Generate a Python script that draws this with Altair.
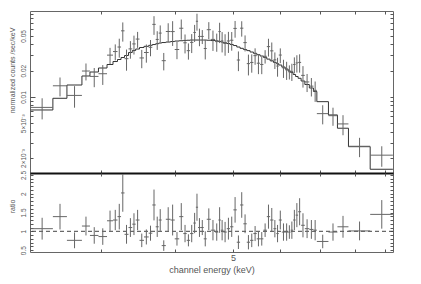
import altair as alt
import pandas as pd

# ---- data ----
energy_edges = [2.288, 2.491, 2.630, 2.787, 2.875, 2.971, 3.071, 3.143, 3.198, 3.242,
                3.286, 3.337, 3.386, 3.431, 3.482, 3.543, 3.608, 3.659, 3.707, 3.751,
                3.794, 3.855, 3.926, 3.990, 4.060, 4.125, 4.180, 4.234, 4.288, 4.330,
                4.367, 4.414, 4.464, 4.516, 4.588, 4.664, 4.724, 4.769, 4.816, 4.880,
                4.942, 5.006, 5.072, 5.137, 5.203, 5.272, 5.340, 5.409, 5.480, 5.551,
                5.622, 5.697, 5.770, 5.844, 5.910, 5.967, 6.037, 6.115, 6.186, 6.246,
                6.307, 6.368, 6.430, 6.505, 6.599, 6.715, 6.822, 6.913, 7.230, 7.486,
                7.812, 8.496, 9.276]

counts = [0.00760, 0.01343, 0.01042, 0.01981, 0.01719, 0.01845, 0.03011, 0.03309, 0.03729, 0.05713,
          0.02743, 0.03549, 0.04046, 0.04598, 0.02796, 0.03227, 0.03703, 0.06768, 0.04554, 0.05383,
          0.02602, 0.05613, 0.05600, 0.03492, 0.06115, 0.04169, 0.03388, 0.04212, 0.05467, 0.07349,
          0.04929, 0.04929, 0.03585, 0.05885, 0.04556, 0.04300, 0.05600, 0.04380, 0.04091, 0.04373,
          0.04459, 0.06087, 0.02647, 0.06125, 0.04189, 0.02408, 0.02484, 0.02969, 0.02434, 0.02354,
          0.02921, 0.03768, 0.03371, 0.02660, 0.02258, 0.03017, 0.02159, 0.02047, 0.01942, 0.01962,
          0.02350, 0.02452, 0.02487, 0.01767, 0.01486, 0.01330, 0.01191, 0.00645, 0.00611, 0.00492,
          0.00273, 0.00216]

counts_err = [0.00206, 0.00328, 0.00288, 0.00435, 0.00425, 0.00472, 0.00635, 0.00687, 0.00912, 0.01414,
              0.00745, 0.00807, 0.00986, 0.00955, 0.00662, 0.00759, 0.00780, 0.01632, 0.01098, 0.01201,
              0.00587, 0.01361, 0.01766, 0.00786, 0.01584, 0.01020, 0.00713, 0.01031, 0.01210, 0.01613,
              0.01120, 0.00896, 0.00896, 0.01293, 0.01194, 0.01009, 0.01465, 0.01148, 0.01127, 0.01185,
              0.01075, 0.01318, 0.00671, 0.01225, 0.00873, 0.00644, 0.00588, 0.00632, 0.00609, 0.00530,
              0.00510, 0.00868, 0.00830, 0.00572, 0.00552, 0.00580, 0.00507, 0.00480, 0.00357, 0.00438,
              0.00488, 0.00549, 0.00589, 0.00487, 0.00347, 0.00317, 0.00312, 0.00159, 0.00143, 0.00127,
              0.00068, 0.00057]

model = [0.00710, 0.00966, 0.01371, 0.01738, 0.01931, 0.02145, 0.02352, 0.02545, 0.02683, 0.02828,
         0.02981, 0.03226, 0.03400, 0.03537, 0.03679, 0.03797, 0.03898, 0.03981, 0.04066, 0.04141,
         0.04196, 0.04252, 0.04308, 0.04365, 0.04399, 0.04435, 0.04458, 0.04481, 0.04481, 0.04481,
         0.04481, 0.04481, 0.04481, 0.04458, 0.04423, 0.04388, 0.04308, 0.04252, 0.04174, 0.04087,
         0.03981, 0.03877, 0.03728, 0.03603, 0.03491, 0.03391, 0.03268, 0.03158, 0.03043, 0.02942,
         0.02836, 0.02711, 0.02593, 0.02486, 0.02402, 0.02321, 0.02203, 0.02089, 0.01982, 0.01905,
         0.01808, 0.01715, 0.01636, 0.01523, 0.01389, 0.01267, 0.01156, 0.00884, 0.00623, 0.00439,
         0.00270, 0.00149]

ratio = [1.07, 1.39, 0.76, 1.14, 0.89, 0.86, 1.28, 1.30, 1.39, 2.02,
         0.92, 1.10, 1.19, 1.30, 0.76, 0.85, 0.95, 1.70, 1.12, 1.30,
         0.62, 1.32, 1.30, 0.80, 1.39, 0.94, 0.76, 0.94, 1.22, 1.64,
         1.10, 1.10, 0.80, 1.32, 1.03, 0.98, 1.30, 1.03, 0.98, 1.07,
         1.12, 1.57, 0.71, 1.70, 1.20, 0.71, 0.76, 0.94, 0.80, 0.80,
         1.03, 1.39, 1.30, 1.07, 0.94, 1.30, 0.98, 0.98, 0.98, 1.03,
         1.30, 1.43, 1.52, 1.16, 1.07, 1.05, 1.03, 0.73, 0.98, 1.12,
         1.01, 1.45]

ratio_err = [0.29, 0.34, 0.21, 0.25, 0.22, 0.22, 0.27, 0.27, 0.34, 0.50,
             0.25, 0.25, 0.29, 0.27, 0.18, 0.20, 0.20, 0.41, 0.27, 0.29,
             0.14, 0.32, 0.41, 0.18, 0.36, 0.23, 0.16, 0.23, 0.27, 0.36,
             0.25, 0.20, 0.20, 0.29, 0.27, 0.23, 0.34, 0.27, 0.27, 0.29,
             0.27, 0.34, 0.18, 0.34, 0.25, 0.19, 0.18, 0.20, 0.20, 0.18,
             0.18, 0.32, 0.32, 0.23, 0.23, 0.25, 0.23, 0.23, 0.18, 0.23,
             0.27, 0.32, 0.36, 0.32, 0.25, 0.25, 0.27, 0.18, 0.23, 0.29,
             0.25, 0.38]

ratio_reference = [1.0]

x_ticks = [3, 4, 5, 6, 7, 8, 9]
x_labels = {5: "5"}
y_ticks = [0.002, 0.003, 0.004, 0.005, 0.006, 0.007, 0.008, 0.009,
           0.01, 0.02, 0.03, 0.04, 0.05, 0.06, 0.07, 0.08, 0.09]
y_major = [0.01]
y_labels = {0.002: "2×10⁻³", 0.005: "5×10⁻³", 0.01: "0.01", 0.02: "0.02", 0.05: "0.05"}
r_ticks = [0.5, 0.6, 0.7, 0.8, 0.9, 1.0, 1.1, 1.2, 1.3, 1.4, 1.5, 1.6, 1.7, 1.8, 1.9,
           2.0, 2.1, 2.2, 2.3, 2.4, 2.5]
r_labels = {0.5: "0.5", 1.0: "1", 1.5: "1.5", 2.0: "2", 2.5: "2.5"}

# ---- tables ----
n = len(counts)
bins = pd.DataFrame({
    "elo": energy_edges[:-1], "ehi": energy_edges[1:],
    "counts": counts, "err": counts_err, "model": model,
    "ratio": ratio, "rerr": ratio_err,
})
bins["ecen"] = (bins["elo"] + bins["ehi"]) / 2
bins["clo"] = bins["counts"] - bins["err"]
bins["chi"] = bins["counts"] + bins["err"]
bins["rlo"] = bins["ratio"] - bins["rerr"]
bins["rhi"] = bins["ratio"] + bins["rerr"]

step_rows = []
for i in range(n):
    step_rows.append({"e": energy_edges[i], "m": model[i], "k": 2 * i})
    step_rows.append({"e": energy_edges[i + 1], "m": model[i], "k": 2 * i + 1})
steps = pd.DataFrame(step_rows)
ref = pd.DataFrame({"r": ratio_reference})


def label_expr(mapping):
    expr = "''"
    for v, t in reversed(list(mapping.items())):
        expr = f"datum.value == {v} ? '{t}' : ({expr})"
    return expr


# layout (pixels inside the single view)
W = 363
H_TOP = 162
H_ALL = 241
H_BOT = H_ALL - H_TOP

XS = alt.Scale(type="log", domain=[2.28, 9.28], nice=False)
YS = alt.Scale(type="log", domain=[0.00135, 0.0963], nice=False, range=[H_TOP, 0])
RS = alt.Scale(domain=[0.45, 2.55], nice=False, zero=False, range=[H_ALL, H_TOP])

TXT = "#555"
INK = "#666"
MODEL_INK = "#333"
FONT = "Liberation Sans"


def tick_axis(orient, values, size=3, shift=0):
    return alt.Axis(orient=orient, values=values, labels=False, domain=False, grid=False,
                    ticks=True, tickSize=size, offset=-size - shift, title=None, tickColor=TXT)


def y_label_axis(values, mapping, title, title_y):
    return alt.Axis(
        orient="left", values=values, labelExpr=label_expr(mapping), domain=False, grid=False,
        ticks=True, tickSize=3, offset=-3, tickColor=TXT, labelOverlap=False, labelFlush=False,
        labelAngle=270, labelAlign="center", labelBaseline="bottom", labelPadding=4,
        labelFontSize=6.5, labelColor=TXT, labelFont=FONT,
        title=title, titleFontSize=7, titleFont=FONT, titleColor=TXT,
        titleFontWeight="normal", titleAngle=270, titleAlign="center", titleBaseline="bottom",
        titleX=-18, titleY=title_y)


# ---- spectrum (top panel) ----
t_model = alt.Chart(steps).mark_line(color=MODEL_INK, strokeWidth=1, clip=True).encode(
    x=alt.X("e:Q", scale=XS, axis=tick_axis("bottom", x_ticks, shift=H_BOT)),
    y=alt.Y("m:Q", scale=YS, axis=y_label_axis(y_ticks, y_labels,
                                                "normalized counts /sec/keV", 59)),
    order="k:Q",
)
t_h = alt.Chart(bins).mark_rule(color=INK, strokeWidth=1, clip=True).encode(
    x=alt.X("elo:Q", scale=XS, axis=tick_axis("top", x_ticks)),
    x2="ehi:Q",
    y=alt.Y("counts:Q", scale=YS, axis=tick_axis("right", y_ticks)),
)
t_v = alt.Chart(bins).mark_rule(color=INK, strokeWidth=1, clip=True).encode(
    x=alt.X("ecen:Q", scale=XS, axis=alt.Axis(orient="bottom", offset=-H_BOT, domain=True,
                                              domainColor="#111", domainWidth=2, ticks=False,
                                              labels=False, grid=False, title=None)),
    y=alt.Y("clo:Q", scale=YS, axis=tick_axis("left", y_major, size=5)),
    y2="chi:Q",
)

# ---- ratio (bottom panel) ----
r_ref = alt.Chart(ref).mark_rule(color="#444", strokeWidth=1, strokeDash=[4, 3]).encode(
    y=alt.Y("r:Q", scale=RS, axis=None))
r_h = alt.Chart(bins).mark_rule(color=INK, strokeWidth=1, clip=True).encode(
    x=alt.X("elo:Q", scale=XS, axis=alt.Axis(
        orient="bottom", values=x_ticks, labelExpr=label_expr(x_labels), domain=False, grid=False,
        ticks=True, tickSize=3, offset=-3, tickColor=TXT, labelOverlap=False, labelFlush=False,
        labelPadding=1, labelFontSize=9, labelColor=TXT, labelFont=FONT,
        title="channel energy (keV)", titleFontSize=9, titleFont=FONT, titleColor=TXT,
        titleFontWeight="normal", titlePadding=3)),
    x2="ehi:Q",
    y=alt.Y("ratio:Q", scale=RS, axis=y_label_axis(r_ticks, r_labels, "ratio", 195)),
)
r_v = alt.Chart(bins).mark_rule(color=INK, strokeWidth=1, clip=True).encode(
    x=alt.X("ecen:Q", scale=XS, axis=tick_axis("top", x_ticks, shift=H_TOP)),
    y=alt.Y("rlo:Q", scale=RS, axis=tick_axis("right", r_ticks)),
    y2="rhi:Q",
)

chart = alt.layer(t_model, t_h, t_v, r_ref, r_h, r_v).resolve_scale(
    y="independent"
).resolve_axis(x="independent", y="independent").properties(
    width=W, height=H_ALL,
    padding={"left": 22, "top": 3, "right": 10, "bottom": 30},
    autosize=alt.AutoSizeParams(type="none"),
).configure_view(stroke="#666", strokeWidth=1)

chart.save("out.html", embed_options={"renderer": "svg", "actions": False})
